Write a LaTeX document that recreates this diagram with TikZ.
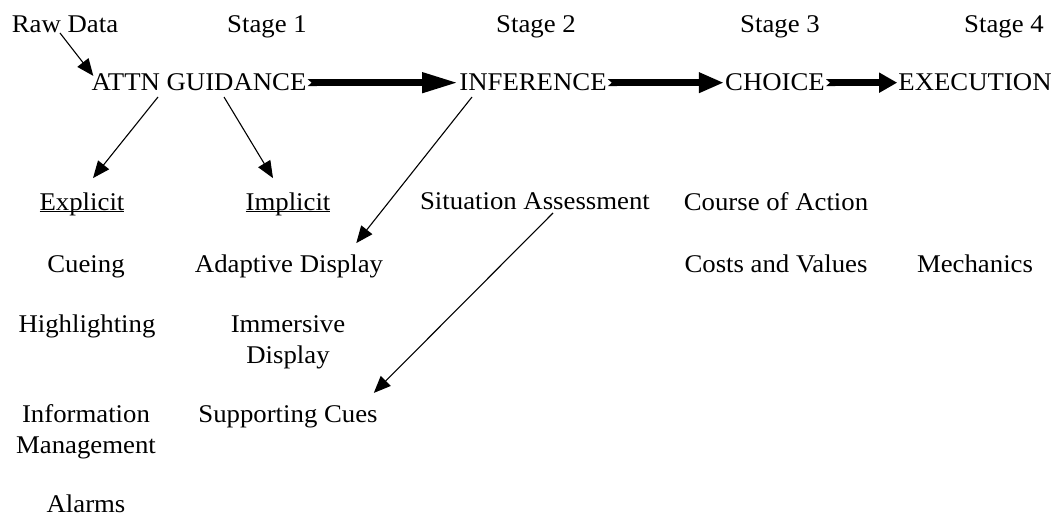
\documentclass[tikz,border=0pt]{standalone}
\usepackage{fontspec}
\setmainfont{Liberation Serif}[FakeStretch=1.05]
\usetikzlibrary{arrows.meta}
\newcommand{\headline}[1]{\underline{\raisebox{0pt}[\height][0pt]{#1}}}
\begin{document}
\begin{tikzpicture}[x=1pt, y=-1pt]

    \tikzstyle{txt} = [font=\fontsize{25.5}{31}\selectfont, inner sep=1pt, anchor=base, align=center]
    \tikzstyle{pointer} = [line width=1.1pt, -{Triangle[length=17pt,width=14pt]}]
    \tikzstyle{stagearrow} = [line width=7pt, {Triangle Cap[reversed,length=4pt]}-{Triangle[length=#1,width=19pt]}]

    \useasboundingbox (0,0) rectangle (1058,516);

    % header row
    \node[txt] (raw) at (65,33) {Raw Data};
    \node[txt] (stageone) at (267,33) {Stage 1};
    \node[txt] (stagetwo) at (536,33) {Stage 2};
    \node[txt] (stagethree) at (780,33) {Stage 3};
    \node[txt] (stagefour) at (1004,33) {Stage 4};

    % stages
    \node[txt] (attn) at (199,91) {ATTN GUIDANCE};
    \node[txt] (inference) at (533,91) {INFERENCE};
    \node[txt] (choice) at (775,91) {CHOICE};
    \node[txt] (execution) at (975,91) {EXECUTION};

    % stage 1 columns (multi-line nodes sit on their last line)
    \node[txt] (explicit) at (82,210) {\headline{Explicit}};
    \node[txt] (cueing) at (86,272) {Cueing};
    \node[txt] (highlighting) at (87,332) {Highlighting};
    \node[txt] (infomgmt) at (86,453) {Information\\Management};
    \node[txt] (alarms) at (86,512) {Alarms};

    \node[txt] (implicit) at (288,210) {\headline{Implicit}};
    \node[txt] (adaptive) at (289,272) {Adaptive Display};
    \node[txt] (immersive) at (288,363) {Immersive\\Display};
    \node[txt] (supporting) at (288,422) {Supporting Cues};

    % stages 2 to 4
    \node[txt] (situation) at (535,209) {Situation Assessment};
    \node[txt] (course) at (776,210) {Course of Action};
    \node[txt] (costs) at (776,272) {Costs and Values};
    \node[txt] (mechanics) at (975,272) {Mechanics};

    \draw[stagearrow=36pt] (attn.east) -- (inference.west);
    \draw[stagearrow=25pt] (inference.east) -- (choice.west);
    \draw[stagearrow=18pt] (choice.east) -- (execution.west);

    \draw[pointer] ([xshift=-5pt]raw.base) -- ([xshift=3pt,yshift=-3pt]attn.north west);
    \draw[pointer] ([xshift=-41pt,yshift=-6pt]attn.base) -- ([xshift=11pt,yshift=13pt]explicit.north);
    \draw[pointer] ([xshift=25pt,yshift=-6pt]attn.base) -- ([xshift=-15pt,yshift=13pt]implicit.north);
    \draw[pointer] ([xshift=-61pt,yshift=-6pt]inference.base) -- ([xshift=-28pt,yshift=10pt]adaptive.north east);
    \draw[pointer] ([xshift=18pt,yshift=-4pt]situation.base) -- ([xshift=-5pt,yshift=11pt]supporting.north east);

\end{tikzpicture}
\end{document}
